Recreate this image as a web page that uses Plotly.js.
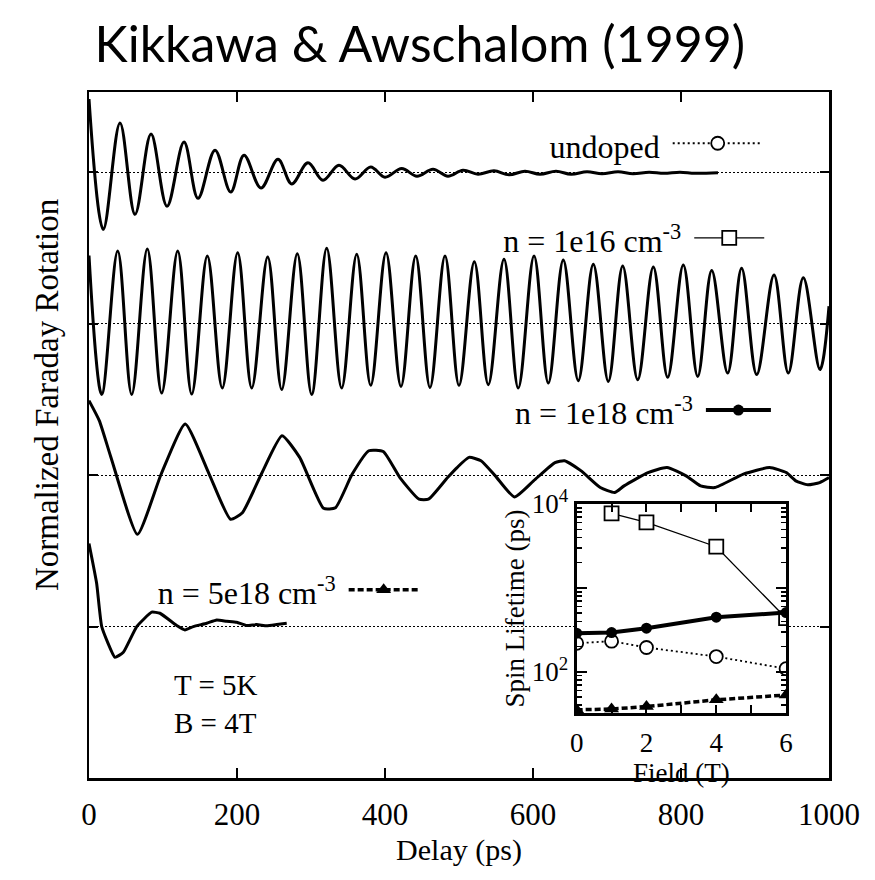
<!DOCTYPE html>
<html>
<head>
<meta charset="utf-8">
<script src="https://cdn.plot.ly/plotly-3.0.1.min.js"></script>
<style>
  html, body { margin: 0; padding: 0; background: #fff; }
  #chart { width: 875px; height: 880px; }
</style>
</head>
<body>
<div id="chart"></div>
<script>
// ---- Time-resolved Faraday rotation (delay in ps, normalised signal) ----
const undopedT = [0,19.3,41.9,62.2,83.8,105.4,128.4,147.3,170.3,191.5,209.5,232.4,255.4,273.9,295.9,316.2,337.8,359.5,380.7,400,422.6,443.2,464.9,485.1,505.4,525.7,547.3,567.6,589.2,609.5,631.1,651.4,673,693.2,714.9,735.1,756.8,777,798.6,818.9,850];
const undopedV = [0.483,-0.377,0.326,-0.278,0.252,-0.225,0.199,-0.172,0.146,-0.130,0.113,-0.104,0.086,-0.077,0.062,-0.053,0.046,-0.044,0.035,-0.033,0.025,-0.026,0.020,-0.026,0.013,-0.013,0.010,-0.017,0.007,-0.013,0.007,-0.013,0.003,-0.010,0.003,-0.010,0,-0.007,0,-0.007,-0.003];

const n1e16T = [0,17.2,38.8,57.7,78.8,98.2,119.9,138.8,159.9,180.1,200.9,219.9,241.5,260.4,281.5,300.9,321.2,341.4,361.8,380.7,401.4,421.6,441.5,460.8,481.1,500,520.7,539.6,560.8,580.1,601.4,620.7,640.9,661.2,681.5,701.8,721.2,741.5,762.6,782,803.1,822.6,841.5,863.1,881.9,902.3,925.7,945,965.3,987.8,1000];
const n1e16V = [0.45,-0.467,0.480,-0.467,0.493,-0.458,0.480,-0.465,0.447,-0.425,0.469,-0.425,0.440,-0.434,0.462,-0.467,0.498,-0.425,0.458,-0.406,0.469,-0.414,0.447,-0.421,0.447,-0.407,0.409,-0.403,0.425,-0.425,0.447,-0.392,0.421,-0.376,0.392,-0.381,0.381,-0.370,0.374,-0.354,0.387,-0.348,0.352,-0.326,0.366,-0.336,0.321,-0.326,0.303,-0.303,0.116];

const n1e18T = [0,13.9,29.7,65.5,97.7,130,162.2,191.2,207.3,233.1,260.8,284.7,316.9,333.1,355.7,378.2,397.6,420.1,445.9,458.8,484.6,497.4,513.5,529.7,549.1,574.9,600.7,629.7,642.6,665.1,690.9,710.3,723.1,755.4,781.1,806.9,826.4,845.7,884.3,919.7,942.3,955.1,971.4,987.4,1000];
const n1e18V = [0.492,0.360,0.117,-0.391,0.009,0.338,0.009,-0.291,-0.248,0.009,0.260,0.117,-0.219,-0.215,0.007,0.161,0.156,-0.016,-0.159,-0.159,-0.016,0.050,0.117,0.095,-0.005,-0.144,-0.038,0.083,0.095,0.028,-0.082,-0.115,-0.071,0.017,0.050,-0.005,-0.071,-0.082,0.007,0.050,0.017,-0.038,-0.064,-0.049,-0.016];

const n5e18T = [0,10.4,17.2,35.1,46.4,64.5,84.7,95.9,118.5,129.7,140.9,159.1,172.6,186.1,199.6,213.1,226.6,240.1,253.6,267.2];
const n5e18V = [0.548,0.283,0,-0.203,-0.170,0,0.095,0.088,0.007,-0.022,0,0.022,0.044,0.035,0.028,0.007,0.013,0.005,0.013,0.022];

// ---- Spin lifetime vs magnetic field (inset) ----
const fieldAll = [0, 1, 2, 4, 6];
const field1e16 = [1, 2, 4, 6];
const lifeUndoped = [219, 232, 195, 152, 109];
const life1e16 = [7740, 6050, 3100, 436];
const life1e18 = [289, 294, 331, 448, 508];
const life5e18 = [35.3, 36, 38.6, 46.4, 53];

// Legend labels
const labelUndoped = 'undoped';
const label1e16 = 'n = 1e16 cm<sup>-3</sup>';
const label1e18 = 'n = 1e18 cm<sup>-3</sup>';
const label5e18 = 'n = 5e18 cm<sup>-3</sup>';

// Vertical stacking of the traces (one baseline per sample)
const stackOffsets = [4, 3, 2, 1];
const delayTicks = [0, 200, 400, 600, 800, 1000];

const SERIF = 'Liberation Serif';
const shift = (arr, off) => arr.map(v => v + off);

const mainLine = { color: '#000', width: 3 };

const traces = [
  { x: undopedT, y: shift(undopedV, stackOffsets[0]), mode: 'lines', line: Object.assign({ shape: 'spline', smoothing: 1 }, mainLine), showlegend: false, hoverinfo: 'skip' },
  { x: n1e16T, y: shift(n1e16V, stackOffsets[1]), mode: 'lines', line: Object.assign({ shape: 'spline', smoothing: 1 }, mainLine), showlegend: false, hoverinfo: 'skip' },
  { x: n1e18T, y: shift(n1e18V, stackOffsets[2]), mode: 'lines', line: Object.assign({ shape: 'spline', smoothing: 0.5 }, mainLine), showlegend: false, hoverinfo: 'skip' },
  { x: n5e18T, y: shift(n5e18V, stackOffsets[3]), mode: 'lines', line: Object.assign({ shape: 'spline', smoothing: 0.4 }, mainLine), showlegend: false, hoverinfo: 'skip' },

  // inset series
  { x: fieldAll, y: lifeUndoped, xaxis: 'x2', yaxis: 'y2', mode: 'lines+markers', name: '', legend: 'legend',
    line: { color: '#000', width: 1.8, dash: '2px,3px' },
    marker: { symbol: 'circle', size: 13, color: '#fff', line: { color: '#000', width: 1.8 } } },
  { x: field1e16, y: life1e16, xaxis: 'x2', yaxis: 'y2', mode: 'lines+markers', name: '', legend: 'legend2',
    line: { color: '#000', width: 1.3 },
    marker: { symbol: 'square', size: 14, color: '#fff', line: { color: '#000', width: 1.8 } } },
  { x: fieldAll, y: life1e18, xaxis: 'x2', yaxis: 'y2', mode: 'lines+markers', name: '', legend: 'legend3',
    line: { color: '#000', width: 4 },
    marker: { symbol: 'circle', size: 11, color: '#000' } },
  { x: fieldAll, y: life5e18, xaxis: 'x2', yaxis: 'y2', mode: 'lines+markers', name: '', legend: 'legend4',
    line: { color: '#000', width: 3.5, dash: '6px,3px' },
    marker: { symbol: 'triangle-up', size: 13, color: '#000' } }
];

function makeLegend(text, x, y, itemwidth) {
  return {
    x, y, xanchor: 'right', yanchor: 'middle',
    bgcolor: 'rgba(0,0,0,0)', borderwidth: 0,
    itemwidth, tracegroupgap: 0,
    font: { family: SERIF, size: 32, color: '#000' },
    title: { text, side: 'left', font: { family: SERIF, size: 32, color: '#000' } }
  };
}

const minorLog = [];
[10, 100, 1000].forEach(d => { for (let k = 2; k <= 9; k++) minorLog.push(k * d); });

const layout = {
  width: 875, height: 880,
  margin: { l: 89, r: 46, t: 92, b: 102 },
  paper_bgcolor: '#fff', plot_bgcolor: '#fff',
  font: { family: SERIF, size: 30, color: '#000' },
  title: {
    text: 'Kikkawa &amp; Awschalom (1999)',
    font: { family: 'Lato', size: 50, color: '#000' },
    x: 0.108, xanchor: 'left', xref: 'container',
    y: 0.949, yanchor: 'middle', yref: 'container'
  },
  xaxis: {
    domain: [0, 1], range: [0, 1000], tickvals: delayTicks,
    ticks: 'inside', ticklen: 10, tickwidth: 2, tickcolor: '#000',
    showline: true, linewidth: 2.5, linecolor: '#000', mirror: 'ticks',
    showgrid: false, zeroline: false, ticklabelstandoff: 7,
    tickfont: { family: SERIF, size: 31 },
    automargin: true,
    title: { text: 'Delay (ps)', font: { family: SERIF, size: 30 }, standoff: 9 }
  },
  yaxis: {
    domain: [0, 1], range: [0, 4.53], tickvals: stackOffsets,
    showticklabels: false,
    ticks: 'inside', ticklen: 9, tickwidth: 2, tickcolor: '#000',
    showline: true, linewidth: 2.5, linecolor: '#000', mirror: 'ticks',
    showgrid: true, gridcolor: '#000', gridwidth: 1, griddash: '2px,2px',
    zeroline: false
  },
  xaxis2: {
    domain: [0.659, 0.942], anchor: 'y2', range: [0, 6],
    tickvals: [0, 1, 2, 3, 4, 5, 6], ticktext: ['0', '', '2', '', '4', '', '6'],
    ticks: 'inside', ticklen: 8, tickwidth: 2, tickcolor: '#000',
    showline: true, linewidth: 3, linecolor: '#000', mirror: 'ticks',
    showgrid: false, zeroline: false, ticklabelstandoff: 4,
    tickfont: { family: SERIF, size: 27 },
    title: { text: 'Field (T)', font: { family: SERIF, size: 27 }, standoff: 0 }
  },
  yaxis2: {
    domain: [0.0948, 0.3994], anchor: 'x2', type: 'log', range: [1.51, 4],
    tickvals: [100, 1000, 10000], ticktext: ['10<sup>2</sup>', '', '10<sup>4</sup>'],
    ticks: 'inside', ticklen: 10, tickwidth: 2, tickcolor: '#000',
    minor: { tickvals: minorLog, ticks: 'inside', ticklen: 5, tickwidth: 1.5, tickcolor: '#000', showgrid: false },
    showline: true, linewidth: 3, linecolor: '#000', mirror: 'ticks',
    showgrid: false, zeroline: false,
    tickfont: { family: SERIF, size: 27 },
    title: { text: 'Spin Lifetime (ps)', font: { family: SERIF, size: 27 }, standoff: 0 }
  },
  legend: makeLegend(labelUndoped, 0.925, 0.925, 90),
  legend2: makeLegend(label1e16, 0.926, 0.787, 70),
  legend3: makeLegend(label1e18, 0.935, 0.536, 65),
  legend4: makeLegend(label5e18, 0.459, 0.274, 70),
  annotations: [
    // left-hand axis label of the stacked traces
    { text: 'Normalized Faraday Rotation', textangle: -90, xref: 'paper', yref: 'paper',
      x: -0.057, y: 0.558, xanchor: 'center', yanchor: 'middle', showarrow: false,
      font: { family: SERIF, size: 33 } },
    { text: 'T = 5K<br>B = 4T', xref: 'paper', yref: 'paper', x: 0.112, y: 0.108, xanchor: 'left', yanchor: 'middle', align: 'left', showarrow: false, font: { family: SERIF, size: 29 } }
  ]
};

Plotly.newPlot('chart', traces, layout, { staticPlot: true, displayModeBar: false });
</script>
</body>
</html>
